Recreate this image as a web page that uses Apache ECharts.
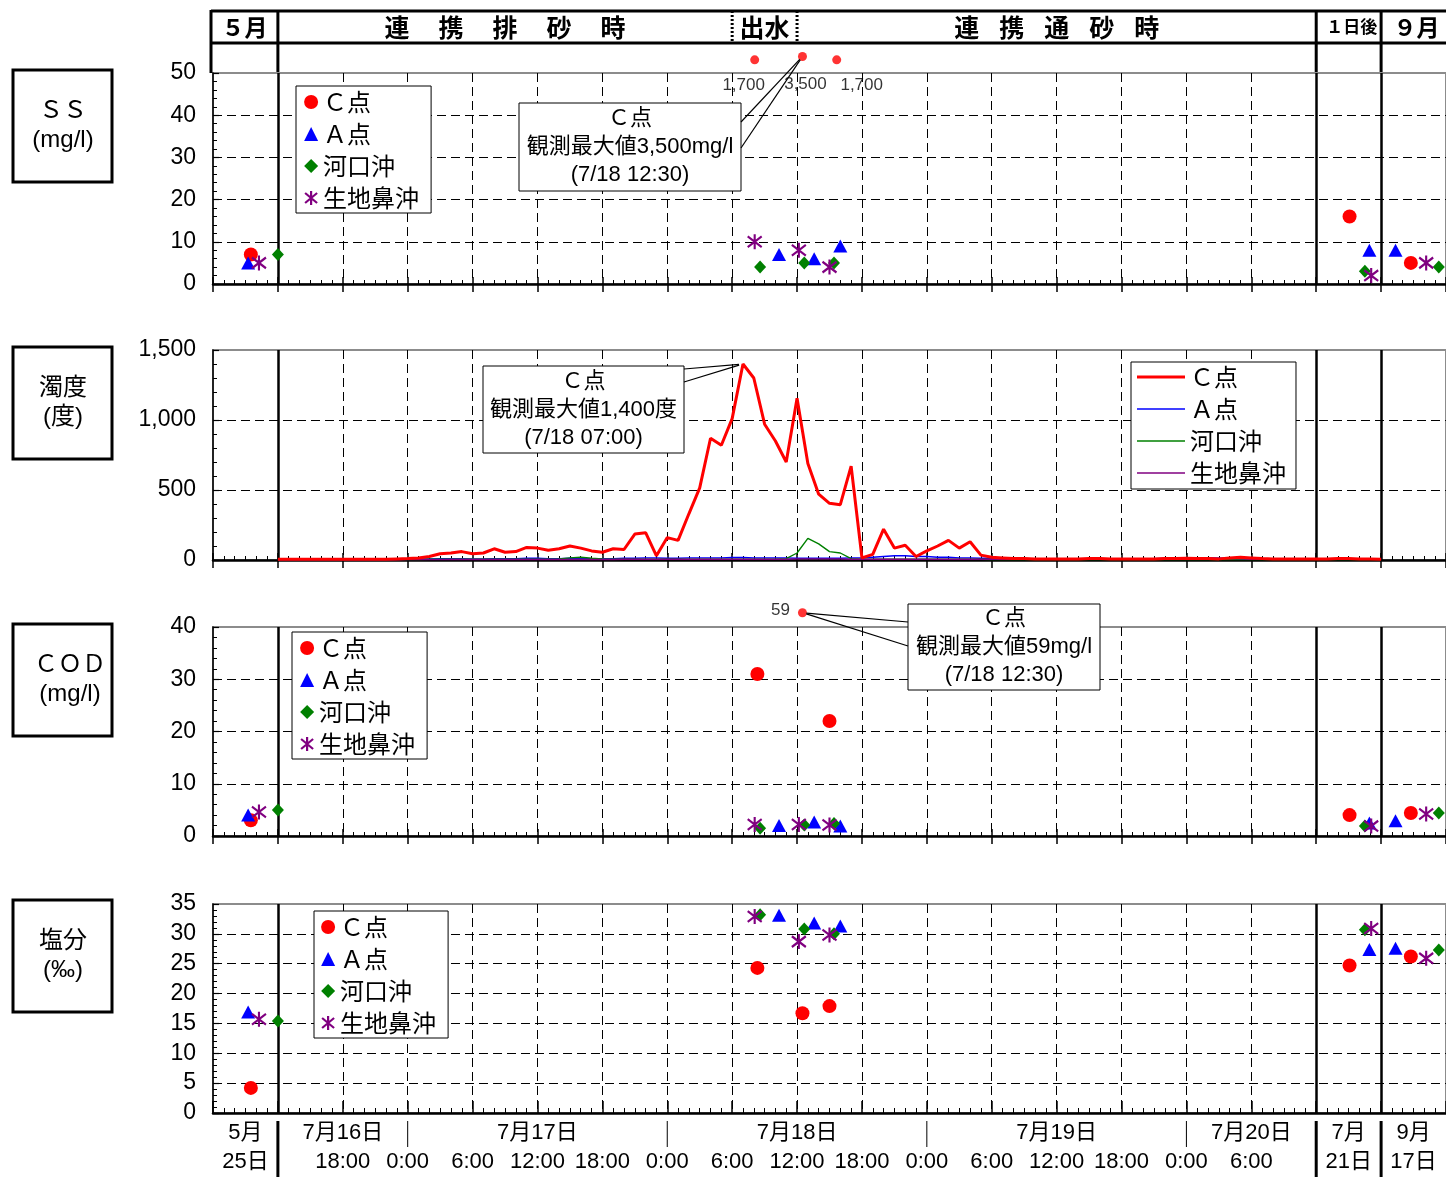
<!DOCTYPE html>
<html lang="ja">
<head>
<meta charset="utf-8">
<title>SS・濁度・COD・塩分</title>
<script src="https://cdn.jsdelivr.net/npm/echarts@6.0.0/dist/echarts.min.js"></script>
<style>
html, body { margin: 0; padding: 0; background: #fff; }
#chart { width: 1446px; height: 1177px; }
</style>
</head>
<body>
<div id="chart"></div>
<script>
const FONT = "'Liberation Sans', 'Noto Sans CJK JP', sans-serif";
const JP = "'Noto Sans CJK JP', 'Liberation Sans', sans-serif";

const stations = ['Ｃ点', 'Ａ点', '河口沖', '生地鼻沖'];

// Sampling times per station: 5/25, three samples on 7/18, 7/21, 9/17
const timeC   = ['5/25 09:30', '7/18 08:20', '7/18 12:30', '7/18 15:00', '7/21 09:05', '9/17 08:45'];
const timeA   = ['5/25 09:15', '7/18 10:20', '7/18 13:35', '7/18 16:00', '7/21 10:55', '9/17 07:20'];
const timeK   = ['5/25 12:00', '7/18 08:35', '7/18 12:40', '7/18 15:25', '7/21 10:30', '9/17 11:20'];
const timeI   = ['5/25 10:15', '7/18 08:05', '7/18 12:10', '7/18 15:00', '7/21 11:05', '9/17 10:10'];
const timeSsC = ['5/25 09:30', '7/18 08:05', '7/18 12:30', '7/18 15:40', '7/21 09:05', '9/17 08:45'];

// SS (mg/l)
const ssC = [7, 1700, 3500, 1700, 16, 5];
const ssA = [5, 7, 6, 9, 8, 8];
const ssK = [7, 4, 5, 5, 3, 4];
const ssI = [5, 10, 8, 4, 2, 5];

// COD (mg/l)
const codC = [3, 31, 59, 22, 4, 4.4];
const codA = [4, 2, 2.7, 1.9, 2.5, 2.9];
const codK = [5, 1.5, 2.1, 2.4, 1.9, 4.4];
const codI = [4.6, 2.2, 2.2, 2.1, 1.9, 4.2];

// 塩分 (‰)
const salC = [4.2, 24.3, 16.7, 17.9, 24.7, 26.2];
const salA = [16.9, 33.1, 31.8, 31.3, 27.4, 27.6];
const salK = [15.4, 33.2, 30.8, 30.0, 30.7, 27.3];
const salI = [15.7, 32.9, 28.7, 29.8, 30.9, 25.9];

// 濁度 (度), hourly from 7/16 12:00
const turbStart = '7/16 12:00';
const turbC = [
  5, 5, 5, 5, 5, 5, 5, 5, 5, 5,
  5, 8, 10, 15, 25, 45, 50, 60, 45, 50,
  80, 55, 60, 90, 85, 70, 80, 100, 85, 65,
  55, 80, 75, 185, 195, 30, 160, 140, 330, 515,
  870, 820, 1010, 1400, 1300, 970, 850, 700, 1155, 690,
  470, 405, 395, 670, 15, 40, 220, 85, 105, 25,
  65, 100, 140, 85, 130, 35, 20, 15, 10, 10,
  8, 8, 8, 8, 8, 10, 10, 8, 8, 8,
  8, 8, 10, 10, 12, 10, 10, 8, 15, 20,
  15, 10, 8, 8, 8, 8, 8, 8, 10, 10,
  8, 8, 5
];
const turbA = [
  3, 3, 3, 3, 3, 3, 3, 3, 3, 3,
  3, 5, 6, 8, 8, 10, 10, 10, 8, 8,
  10, 10, 10, 12, 12, 10, 10, 12, 12, 10,
  10, 10, 12, 12, 15, 15, 12, 12, 15, 15,
  15, 15, 18, 18, 15, 15, 15, 15, 12, 12,
  12, 12, 12, 15, 15, 20, 25, 30, 30, 25,
  25, 20, 20, 15, 15, 12, 12, 10, 10, 10,
  10, 10, 10, 10, 10, 10, 10, 10, 10, 10,
  10, 10, 12, 12, 15, 15, 15, 12, 12, 12,
  12, 10, 10, 10, 10, 10, 10, 10, 10, 10,
  10, 10, 10
];
const turbK = [
  2, 2, 2, 2, 2, 2, 2, 2, 2, 2,
  2, 3, 3, 4, 5, 5, 5, 5, 5, 5,
  5, 5, 5, 5, 5, 5, 8, 15, 20, 12,
  8, 5, 5, 5, 5, 5, 5, 5, 5, 5,
  5, 5, 5, 5, 5, 5, 5, 10, 50, 155,
  115, 60, 50, 10, 5, 5, 5, 5, 5, 5,
  5, 5, 5, 5, 5, 5, 4, 4, 4, 4,
  4, 4, 4, 4, 4, 4, 4, 4, 4, 4,
  4, 4, 4, 4, 4, 4, 4, 4, 4, 4,
  4, 4, 4, 4, 4, 4, 4, 4, 4, 4,
  4, 4, 4
];
const turbI = [
  2, 2, 2, 2, 2, 2, 2, 2, 2, 2,
  2, 2, 3, 3, 3, 3, 4, 4, 4, 4,
  4, 4, 4, 4, 4, 4, 4, 4, 4, 4,
  4, 4, 5, 5, 5, 5, 5, 5, 5, 5,
  5, 5, 5, 5, 5, 5, 5, 5, 8, 8,
  8, 8, 8, 5, 5, 5, 5, 5, 5, 5,
  5, 5, 5, 5, 5, 5, 5, 5, 5, 5,
  5, 5, 5, 5, 5, 5, 5, 5, 5, 5,
  5, 5, 8, 10, 12, 15, 15, 12, 10, 8,
  5, 5, 5, 5, 5, 5, 5, 5, 5, 5,
  5, 5, 5
];

// Time axis labels
const clockTicks = ['7/16 18:00', '7/17 00:00', '7/17 06:00', '7/17 12:00', '7/17 18:00',
  '7/18 00:00', '7/18 06:00', '7/18 12:00', '7/18 18:00', '7/19 00:00', '7/19 06:00',
  '7/19 12:00', '7/19 18:00', '7/20 00:00', '7/20 06:00'];
const dayLabels = [['7/16 18:00', '7月16日'], ['7/17 12:00', '7月17日'], ['7/18 12:00', '7月18日'],
  ['7/19 12:00', '7月19日'], ['7/20 06:00', '7月20日']];
const dayBlocks = [['5/25 09:00', '5月', '25日'], ['7/21 09:00', '7月', '21日'], ['9/17 09:00', '9月', '17日']];
const segmentEdges = ['7/16 12:00', '7/21 06:00', '9/17 06:00'];
const dayBreaks = ['7/17 00:00', '7/18 00:00', '7/19 00:00', '7/20 00:00'];
const floodWindow = ['7/18 06:00', '7/18 12:00'];

// Composite time axis in hours: 5/25 block [0,6], 7/16 12:00 → 7/20 12:00 [6,102],
// 7/21 block [102,108], 9/17 block [108,114]; each separate day block covers 06:00–12:00.
const T_MIN = 0, T_MAX = 114;
function toAxis(s) {
  const [md, hm] = s.split(' ');
  const [m, d] = md.split('/').map(Number);
  const [hh, mm] = hm.split(':').map(Number);
  const h = hh + mm / 60;
  if (m === 5) return h - 6;
  if (m === 9) return 108 + h - 6;
  if (m === 7 && d === 21) return 102 + h - 6;
  return 6 + (d - 16) * 24 + (h - 12);
}
const clock = s => { const [hh, mm] = s.split(' ')[1].split(':'); return Number(hh) + ':' + mm; };
const fmtNum = v => v.toLocaleString('en-US');
const pad = n => String(n).padStart(2, '0');

const labelMap = new Map();
clockTicks.forEach(s => labelMap.set(Math.round(toAxis(s)), ['　', clock(s)]));
dayLabels.forEach(([s, d]) => { labelMap.get(Math.round(toAxis(s)))[0] = d; });
dayBlocks.forEach(([s, a, b]) => labelMap.set(Math.round(toAxis(s)), [a, b]));

const STAR = 'path://M1,2L13,12M13,2L1,12M7,0L7,14';
const stationStyle = [
  { symbol: 'circle', size: 14, color: '#ff0000', border: 0 },
  { symbol: 'triangle', size: [14, 13], color: '#0000ff', border: 0 },
  { symbol: 'diamond', size: [12, 13], color: '#008000', border: 0 },
  { symbol: STAR, size: [14, 15], color: '#800080', border: 2.2 }
];

// ---- axes ----
const gridBox = (top, height, show) => ({
  left: 213, top, width: 1233, height, show,
  borderColor: '#8c8c8c', borderWidth: 2, backgroundColor: 'transparent',
  containLabel: false, outerBoundsMode: 'none'
});
const grids = [
  gridBox(73, 211, true),   // 0 SS
  gridBox(44, 28, false),   // 1 SS above-scale strip
  gridBox(350, 210, true),  // 2 濁度
  gridBox(627, 209, true),  // 3 COD
  gridBox(598, 28, false),  // 4 COD above-scale strip
  gridBox(904, 209, true)   // 5 塩分
];

function mainX(gi, bottomAxis) {
  return {
    type: 'value', gridIndex: gi, position: 'bottom', min: T_MIN, max: T_MAX, interval: 6,
    axisLine: { show: true, onZero: false, lineStyle: { color: '#000', width: 2.5 } },
    axisTick: { show: true, inside: true, length: bottomAxis ? 12 : 7, lineStyle: { color: '#000', width: 1.5 } },
    minorTick: { show: true, splitNumber: 6, length: bottomAxis ? 5 : 4, lineStyle: { color: '#000', width: 1 } },
    splitLine: { show: true, showMinLine: false, showMaxLine: false, lineStyle: { color: '#000', width: 1, type: [9, 5] } },
    axisLabel: bottomAxis ? {
      show: true, customValues: [...labelMap.keys()], hideOverlap: false, margin: 5,
      formatter: v => { const l = labelMap.get(Math.round(v)); return l ? `{a|${l[0]}}\n{b|${l[1]}}` : ''; },
      rich: {
        a: { fontSize: 22, lineHeight: 29, fontFamily: FONT, color: '#000' },
        b: { fontSize: 22, lineHeight: 29, fontFamily: FONT, color: '#000' }
      }
    } : { show: false }
  };
}
function outX(gi) {
  return {
    type: 'value', gridIndex: gi, position: 'bottom', min: T_MIN, max: T_MAX, interval: 6,
    axisLine: { show: false, onZero: false },
    axisTick: { show: true, inside: false, length: 8, lineStyle: { color: '#000', width: 1.5 } },
    minorTick: { show: false }, splitLine: { show: false }, axisLabel: { show: false }
  };
}
const hiddenX = gi => ({ type: 'value', gridIndex: gi, min: T_MIN, max: T_MAX, show: false });

function mainY(gi, max, interval, formatter) {
  return {
    type: 'value', gridIndex: gi, min: 0, max, interval,
    axisLine: { show: true, onZero: false, lineStyle: { color: '#000', width: 1.5 } },
    axisTick: { show: true, inside: true, length: 6, lineStyle: { color: '#000', width: 1.2 } },
    minorTick: { show: true, splitNumber: 5, length: 4, lineStyle: { color: '#000', width: 1 } },
    splitLine: { show: true, showMinLine: false, showMaxLine: false, lineStyle: { color: '#000', width: 1, type: [9, 5] } },
    axisLabel: { show: true, fontSize: 23, fontFamily: FONT, color: '#000', margin: 17, formatter }
  };
}

const xAxes = [
  mainX(0, false), outX(0),   // 0,1  SS
  hiddenX(1),                 // 2    SS strip
  mainX(2, false), outX(2),   // 3,4  濁度
  mainX(3, false), outX(3),   // 5,6  COD
  hiddenX(4),                 // 7    COD strip
  mainX(5, true)              // 8    塩分
];
const yAxes = [
  mainY(0, 50, 10),
  { type: 'value', gridIndex: 1, min: -5000, max: 10400, show: false },
  mainY(2, 1500, 500, v => fmtNum(v)),
  mainY(3, 40, 10),
  { type: 'value', gridIndex: 4, min: 40, max: 80, show: false },
  mainY(5, 35, 5)
];

// ---- series ----
const stationTimes = [timeC, timeA, timeK, timeI];
function scatter(prefix, k, times, vals, xi, yi, limit) {
  const st = stationStyle[k];
  const data = [];
  times.forEach((s, i) => { if (vals[i] <= limit) data.push([toAxis(s), vals[i]]); });
  return {
    type: 'scatter', name: prefix + ':' + stations[k], xAxisIndex: xi, yAxisIndex: yi,
    symbol: st.symbol, symbolSize: st.size, data, silent: true, z: 3,
    itemStyle: { color: st.color, borderColor: st.color, borderWidth: st.border, opacity: 1 }
  };
}
function separators(xi, yi) {
  return {
    type: 'scatter', name: 'sep' + xi, xAxisIndex: xi, yAxisIndex: yi, data: [], silent: true,
    markLine: {
      silent: true, symbol: ['none', 'none'], z: 1, animation: false, label: { show: false },
      lineStyle: { color: '#000', width: 2.5, type: 'solid' },
      data: segmentEdges.map(s => ({ xAxis: toAxis(s) }))
    }
  };
}

const ssVals = [ssC, ssA, ssK, ssI];
const codVals = [codC, codA, codK, codI];
const salVals = [salC, salA, salK, salI];

const series = [];
series.push(separators(0, 0), separators(3, 2), separators(5, 3), separators(8, 5));
// SS
series.push(scatter('SS', 0, timeSsC, ssC, 0, 0, 50));
[1, 2, 3].forEach(k => series.push(scatter('SS', k, stationTimes[k], ssVals[k], 0, 0, 50)));
const ssLabelShift = [[-11, 0], [3, 3], [25, 0]];
const ssOver = [];
timeSsC.forEach((s, i) => { if (ssC[i] > 50) ssOver.push([toAxis(s), ssC[i]]); });
series.push({
  type: 'scatter', name: 'SS:Ｃ点上限超', xAxisIndex: 2, yAxisIndex: 1, symbol: 'circle', symbolSize: 9,
  itemStyle: { color: '#ff0000' }, silent: true, z: 3,
  data: ssOver.map((p, j) => ({ value: p, label: { offset: ssLabelShift[j] } })),
  label: { show: true, position: 'bottom', distance: 12, fontSize: 17, fontFamily: FONT, color: '#000',
    formatter: p => fmtNum(p.value[1]) }
});
// 濁度
const t0 = toAxis(turbStart);
const turbVals = [turbC, turbA, turbK, turbI];
const turbColors = ['#ff0000', '#0000ff', '#008000', '#800080'];
[1, 2, 3, 0].forEach(k => series.push({
  type: 'line', name: 'T:' + stations[k], xAxisIndex: 3, yAxisIndex: 2,
  data: turbVals[k].map((v, i) => [t0 + i, v]),
  symbol: 'none', showSymbol: false, silent: true, z: k === 0 ? 4 : 3,
  lineStyle: { color: turbColors[k], width: k === 0 ? 3 : 1.4 },
  itemStyle: { color: turbColors[k] }
}));
// COD
[0, 1, 2, 3].forEach(k => series.push(scatter('COD', k, stationTimes[k], codVals[k], 5, 3, 40)));
const codOver = [];
timeC.forEach((s, i) => { if (codC[i] > 40) codOver.push([toAxis(s), codC[i]]); });
series.push({
  type: 'scatter', name: 'COD:Ｃ点上限超', xAxisIndex: 7, yAxisIndex: 4, symbol: 'circle', symbolSize: 9,
  itemStyle: { color: '#ff0000' }, silent: true, z: 3, data: codOver,
  label: { show: true, position: 'left', distance: 8, fontSize: 17, fontFamily: FONT, color: '#000',
    offset: [0, -2], formatter: p => fmtNum(p.value[1]) }
});
// 塩分
[0, 1, 2, 3].forEach(k => series.push(scatter('SAL', k, stationTimes[k], salVals[k], 8, 5, 35)));

// ---- legends ----
function scatterLegend(prefix, left, top, padding) {
  return {
    show: true, left, top, orient: 'vertical', padding, itemGap: 8, itemWidth: 14, itemHeight: 14,
    backgroundColor: '#fff', borderColor: '#000', borderWidth: 1, selectedMode: false,
    textStyle: { fontSize: 24, lineHeight: 24, fontFamily: JP, color: '#000' },
    formatter: n => n.slice(n.indexOf(':') + 1),
    data: stations.map((s, k) => ({
      name: prefix + ':' + s,
      itemStyle: { color: stationStyle[k].color, borderColor: stationStyle[k].color, borderWidth: stationStyle[k].border }
    }))
  };
}
const legends = [
  scatterLegend('SS', 296, 86, [4, 12, 3, 8]),
  {
    show: true, left: 1131, top: 362, orient: 'vertical', padding: [3, 10, 4, 6], itemGap: 8,
    itemWidth: 48, itemHeight: 14, backgroundColor: '#fff', borderColor: '#000', borderWidth: 1,
    selectedMode: false, symbolKeepAspect: true,
    textStyle: { fontSize: 24, lineHeight: 24, fontFamily: JP, color: '#000' },
    formatter: n => n.slice(n.indexOf(':') + 1),
    data: stations.map((s, k) => ({
      name: 'T:' + s,
      icon: k === 0 ? 'path://M0,0H48V3H0Z' : 'path://M0,0H48V1.4H0Z',
      itemStyle: { color: turbColors[k], borderWidth: 0 }
    }))
  },
  scatterLegend('COD', 292, 632, [4, 12, 3, 8]),
  scatterLegend('SAL', 314, 911, [4, 12, 3, 7])
];

const chart = echarts.init(document.getElementById('chart'), null, { renderer: 'canvas' });
chart.setOption({
  animation: false,
  backgroundColor: '#fff',
  textStyle: { fontFamily: FONT },
  grid: grids,
  xAxis: xAxes,
  yAxis: yAxes,
  legend: legends,
  series
});

// ---- frames, headings and callouts ----
const gx = t => chart.convertToPixel({ xAxisIndex: 0 }, t);
const pt = (gi, t, v) => chart.convertToPixel({ gridIndex: gi }, [t, v]);
const G = [];
const line = (x1, y1, x2, y2, w, extra) => G.push({ type: 'line', silent: true, z: 10,
  shape: { x1, y1, x2, y2 }, style: Object.assign({ stroke: '#000', lineWidth: w }, extra || {}) });
const text = (x, y, s, font, extra) => G.push({ type: 'text', silent: true, z: 11, x, y,
  style: Object.assign({ text: s, font, fill: '#000', align: 'center', verticalAlign: 'middle' }, extra || {}) });
const rect = (x, y, w, h, lw) => G.push({ type: 'rect', silent: true, z: 10,
  shape: { x, y, width: w, height: h }, style: { fill: '#fff', stroke: '#000', lineWidth: lw } });

// heading table above the SS panel
const edges = segmentEdges.map(s => gx(toAxis(s)));
const xL = gx(T_MIN) - 2, xR = gx(T_MAX);
const fl = floodWindow.map(s => gx(toAxis(s)));
line(xL, 11, xR, 11, 3);
line(xL, 43, xR, 43, 3);
line(xL, 10, xL, 73, 3);
edges.forEach(x => line(x, 10, x, 72, 3));
fl.forEach(x => line(x, 11, x, 43, 3, { lineDash: [2, 2] }));
const HB = s => `bold ${s}px ${JP}`;
const spaced = (chars, cx, sp, size) => chars.split('').forEach((c, i) =>
  text(cx + (i - (chars.length - 1) / 2) * sp, 27, c, HB(size)));
text((xL + edges[0]) / 2, 27, '５月', HB(23));
spaced('連携排砂時', (edges[0] + fl[0]) / 2, 54, 25);
text((fl[0] + fl[1]) / 2, 27, '出水', HB(25));
spaced('連携通砂時', (fl[1] + edges[1]) / 2, 45, 25);
text((edges[1] + edges[2]) / 2 + 3, 27, '１日後', HB(17));
text((edges[2] + xR) / 2 + 3, 27, '９月', HB(23));

// panel title boxes
const LB = `24px ${FONT}`;
[[70, 'ＳＳ', '(mg/l)', 63], [347, '濁度', '(度)', 63], [624, 'ＣＯＤ', '(mg/l)', 70], [900, '塩分', '(‰)', 63]]
  .forEach(([y, a, b, cx]) => {
    rect(13, y, 99, 112, 3);
    text(cx, y + 41, a, LB);
    text(cx, y + 70, b, LB);
  });

// callouts for the observed maxima
function callout(box, attach, target, lines) {
  rect(box[0], box[1], box[2], box[3], 1);
  attach.forEach(([ax, ay]) => {
    const dx = ax - target[0], dy = ay - target[1], d = Math.hypot(dx, dy);
    line(ax, ay, target[0] + dx / d * 4, target[1] + dy / d * 4, 1.2);
  });
  text(box[0] + box[2] / 2, box[1] + box[3] / 2, lines.join('\n'), `22px ${FONT}`, { lineHeight: 28 });
}
const argmax = a => a.indexOf(Math.max(...a));
const ssMax = argmax(ssC);
callout([519, 103, 222, 88], [[741, 122], [741, 148]],
  pt(1, toAxis(timeSsC[ssMax]), ssC[ssMax]),
  ['Ｃ点', `観測最大値${fmtNum(ssC[ssMax])}mg/l`, `(${timeSsC[ssMax]})`]);
const tMax = argmax(turbC);
const tMaxHour = 12 + tMax;
const tMaxLabel = `7/${16 + Math.floor(tMaxHour / 24)} ${pad(tMaxHour % 24)}:00`;
callout([483, 366, 201, 87], [[684, 369], [684, 382]],
  pt(2, t0 + tMax, turbC[tMax]),
  ['Ｃ点', `観測最大値${fmtNum(turbC[tMax])}度`, `(${tMaxLabel})`]);
const cMax = argmax(codC);
callout([908, 604, 192, 86], [[908, 622], [908, 646]],
  pt(4, toAxis(timeC[cMax]), codC[cMax]),
  ['Ｃ点', `観測最大値${fmtNum(codC[cMax])}mg/l`, `(${timeC[cMax]})`]);

// dividers in the date label area
edges.forEach(x => line(x, 1121, x, 1177, 3));
dayBreaks.forEach(s => { const x = gx(toAxis(s)); line(x, 1121, x, 1147, 1); });

chart.setOption({ graphic: { elements: G } });
</script>
</body>
</html>
